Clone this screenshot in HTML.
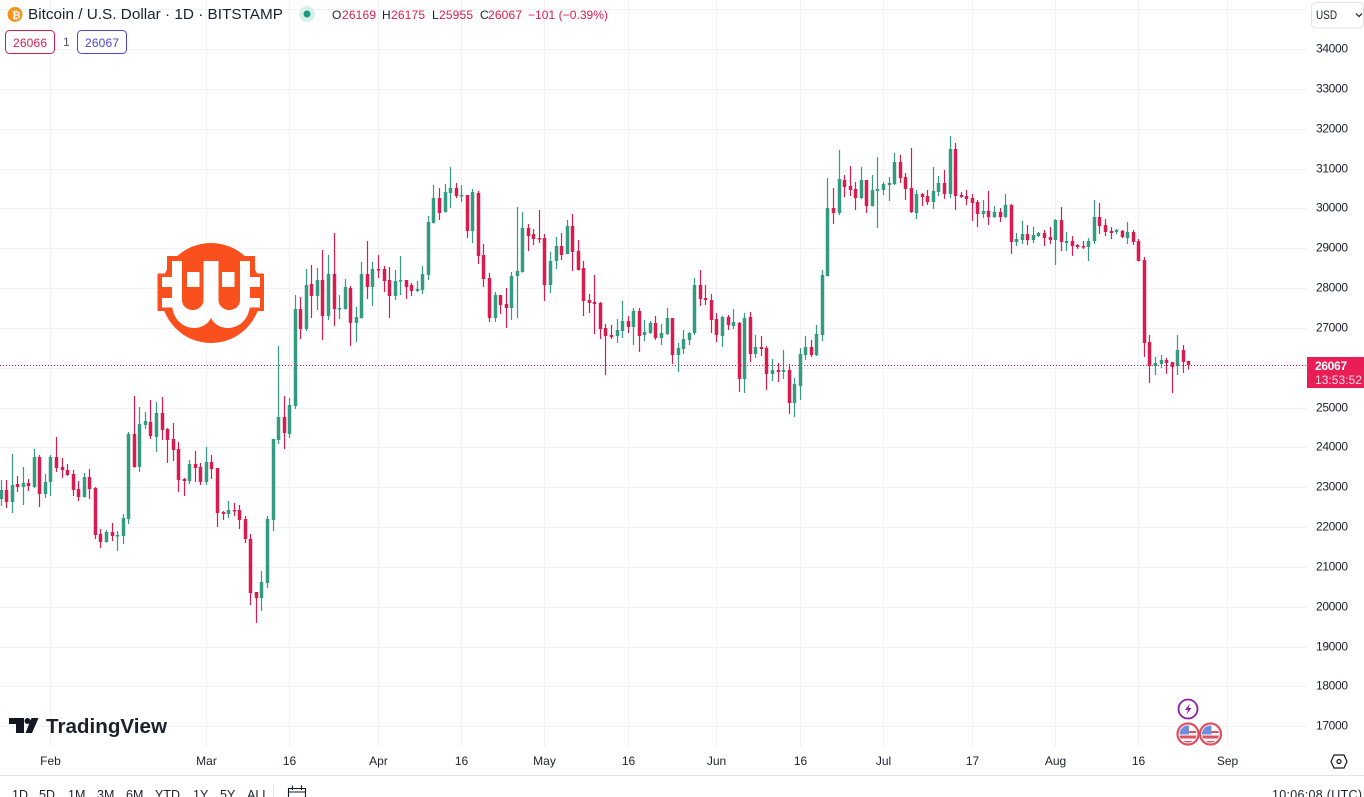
<!DOCTYPE html>
<html lang="en">
<head>
<meta charset="utf-8">
<title>Bitcoin / U.S. Dollar chart</title>
<style>
html,body{margin:0;padding:0;background:#fff;width:1364px;height:797px;overflow:hidden}
svg{display:block}
text{font-family:"Liberation Sans",sans-serif;fill:#1c202b;font-size:12px}
</style>
</head>
<body>
<svg id="chart" xmlns="http://www.w3.org/2000/svg" width="1364" height="797" viewBox="0 0 1364 797">
  <defs>
    <clipPath id="flag-clip-a"><circle cx="1188" cy="734" r="8.500"/></clipPath>
    <clipPath id="flag-clip-b"><circle cx="1210.500" cy="734" r="8.500"/></clipPath>
  </defs>
  <rect x="0" y="0" width="1364" height="797" fill="#ffffff"/>
  <g id="grid"></g>

  <g>
    <circle cx="211" cy="293" r="50" fill="#f9501e"/>
    <rect x="167" y="256" width="88" height="55" fill="#f9501e"/>
    <rect x="157.500" y="273.500" width="106.500" height="37.500" fill="#f9501e"/>
    <path d="M172 261V303C172 320 184 328 194 328C202 328 208 324 211 318C214 324 220 328 228 328C238 328 250 320 250 303V261Z" fill="#ffffff"/>
    <path d="M182 261H203.500V300C203.500 306 198 310 193 310C187 310 182 306 182 300Z" fill="#f9501e"/>
    <path d="M218.500 261H240V300C240 306 235 310 229 310C224 310 218.500 306 218.500 300Z" fill="#f9501e"/>
    <rect x="187" y="272" width="12.500" height="15" fill="#ffffff"/>
    <rect x="222" y="272" width="12.500" height="15" fill="#ffffff"/>
    <rect x="162" y="277" width="12" height="10" fill="#ffffff"/>
    <rect x="162" y="298" width="12" height="9.500" fill="#ffffff"/>
    <rect x="248" y="277" width="12" height="10" fill="#ffffff"/>
    <rect x="248" y="298" width="12" height="9.500" fill="#ffffff"/>
  </g>

  <g id="candles"></g>
  <line id="last-price-line" x1="0" x2="1307" y1="365.500" y2="365.500" stroke="#d81e50" stroke-width="1" stroke-dasharray="1 2"/>
  <g id="price-axis"></g>
  <g id="time-axis"></g>

  <g>
    <rect x="1307" y="357" width="57" height="31" fill="#e91e57"/>
    <text x="1315" y="370" style="font-size:12px;font-weight:bold;fill:#fff" textLength="32">26067</text>
    <text x="1315" y="384" style="font-size:12px;fill:#fbdbe4" textLength="47">13:53:52</text>
  </g>

  <g>
    <circle cx="15" cy="14.500" r="7.500" fill="#f7931a"/>
    <text x="12" y="18.500" style="font-size:10.500px;font-weight:bold;fill:#fff">₿</text>
    <text x="28" y="19" style="font-size:14.500px" textLength="255" lengthAdjust="spacingAndGlyphs">Bitcoin / U.S. Dollar · 1D · BITSTAMP</text>
    <circle cx="307" cy="14" r="8" fill="#d9f0ea"/>
    <circle cx="307" cy="14" r="3.500" fill="#1b9a80"/>
    <g style="font-size:12px">
      <text x="332" y="19">O</text>
      <text x="342" y="19" style="fill:#d81e50" textLength="34">26169</text>
      <text x="382" y="19">H</text>
      <text x="391" y="19" style="fill:#d81e50" textLength="34">26175</text>
      <text x="432" y="19">L</text>
      <text x="439" y="19" style="fill:#d81e50" textLength="34">25955</text>
      <text x="480" y="19">C</text>
      <text x="488" y="19" style="fill:#d81e50" textLength="34">26067</text>
      <text x="528" y="19" style="fill:#d81e50" textLength="80">−101 (−0.39%)</text>
    </g>
    <rect x="5.500" y="30.500" width="49" height="23" rx="4" fill="#fff" stroke="#d81e50"/>
    <text x="13" y="47" style="fill:#d81e50" textLength="34">26066</text>
    <text x="63" y="46" style="fill:#50535e">1</text>
    <rect x="77.500" y="30.500" width="49" height="23" rx="4" fill="#fff" stroke="#4a46d6"/>
    <text x="85" y="47" style="fill:#4a46d6" textLength="34">26067</text>
  </g>

  <g>
    <rect x="1311.500" y="2.500" width="52" height="25.500" rx="4" fill="#fff" stroke="#e0e3eb"/>
    <text x="1316" y="19" style="font-size:11.500px" textLength="21" lengthAdjust="spacingAndGlyphs">USD</text>
    <path d="M1356 13.500l3 3 3-3" fill="none" stroke="#131722" stroke-width="1.200"/>
  </g>

  <g>
    <path d="M9 718H24V733H16V724H9Z" fill="#131722"/>
    <circle cx="27.500" cy="721" r="3" fill="#131722"/>
    <path d="M31.500 718H38.500L32 733H25.500Z" fill="#131722"/>
    <text x="46" y="733" style="font-size:20.500px;font-weight:bold" textLength="121" lengthAdjust="spacingAndGlyphs">TradingView</text>
  </g>

  <g>
    <circle cx="1188" cy="709" r="9.500" fill="#fff" stroke="#8e1ca8" stroke-width="1.800"/>
    <path d="M1190 703.500L1185 710H1188L1186.500 714.500L1191.500 708H1188.500Z" fill="#8e1ca8"/>
    <g>
      <circle cx="1188" cy="734" r="10.500" fill="#fff" stroke="#e0505f" stroke-width="2.200"/>
      <g clip-path="url(#flag-clip-a)">
        <rect x="1179" y="725" width="18" height="18" fill="#fff"/>
        <rect x="1179" y="731" width="18" height="2" fill="#e0505f"/>
        <rect x="1179" y="735.500" width="18" height="3" fill="#e0505f"/>
        <rect x="1179" y="741" width="18" height="2" fill="#e0505f"/>
        <rect x="1179" y="725" width="10" height="9.500" fill="#6c8fe0"/>
      </g>
    </g>
    <g>
      <circle cx="1210.500" cy="734" r="10.500" fill="#fff" stroke="#e0505f" stroke-width="2.200"/>
      <g clip-path="url(#flag-clip-b)">
        <rect x="1201.500" y="725" width="18" height="18" fill="#fff"/>
        <rect x="1201.500" y="731" width="18" height="2" fill="#e0505f"/>
        <rect x="1201.500" y="735.500" width="18" height="3" fill="#e0505f"/>
        <rect x="1201.500" y="741" width="18" height="2" fill="#e0505f"/>
        <rect x="1201.500" y="725" width="10" height="9.500" fill="#6c8fe0"/>
      </g>
    </g>
  </g>

  <g>
    <path d="M1334 755H1344L1347 761.500L1344 768H1334L1331 761.500Z" fill="none" stroke="#131722" stroke-width="1.200"/>
    <circle cx="1339" cy="761.500" r="2" fill="none" stroke="#131722" stroke-width="1.200"/>
  </g>

  <line x1="0" x2="1364" y1="775.500" y2="775.500" stroke="#e0e3eb"/>
  <g id="range-toolbar">
    <text x="12" y="799" style="font-size:12.500px">1D</text>
    <text x="39" y="799" style="font-size:12.500px">5D</text>
    <text x="68" y="799" style="font-size:12.500px">1M</text>
    <text x="97" y="799" style="font-size:12.500px">3M</text>
    <text x="126" y="799" style="font-size:12.500px">6M</text>
    <text x="155" y="799" style="font-size:12.500px">YTD</text>
    <text x="193" y="799" style="font-size:12.500px">1Y</text>
    <text x="220" y="799" style="font-size:12.500px">5Y</text>
    <text x="247" y="799" style="font-size:12.500px">ALL</text>
    <line x1="273.500" x2="273.500" y1="784" y2="797" stroke="#e0e3eb"/>
    <path d="M288.500 788.500H305.500V800H288.500ZM288.500 792H305.500M292.500 785.500V790M301.500 785.500V790" fill="none" stroke="#131722" stroke-width="1.100"/>
    <text x="1272" y="799" style="font-size:12.500px" textLength="90">10:06:08 (UTC)</text>
  </g>
</svg>
<script>
const startDate = '2023-01-23';
const priceTicks = [35000,34000,33000,32000,31000,30000,29000,28000,27000,26000,25000,24000,23000,22000,21000,20000,19000,18000,17000];
const hiddenPriceLabels = [35000,26000];
const timeTickDates = ['2023-02-01','2023-03-01','2023-03-16','2023-04-01','2023-04-16','2023-05-01','2023-05-16','2023-06-01','2023-06-16','2023-07-01','2023-07-17','2023-08-01','2023-08-16','2023-09-01'];
const timeTickLabels = ['Feb','Mar','16','Apr','16','May','16','Jun','16','Jul','17','Aug','16','Sep'];
const lastPrice = 26067;
const opens = [
22705,22931,22630,23082,23006,23107,23006,23759,22831,23132,
23759,23508,23433,23333,22956,22755,23257,22981,21827,21626,
21877,21776,21776,22203,24337,23508,24562,24638,24261,24864,
24462,24211,23960,23207,23157,23584,23508,23132,23634,23483,
22379,22329,22429,22429,22203,21701,20371,20220,20597,22178,
24186,24763,24337,25039,
27474,26972,28102,27800,28202,27298,28353,27474,27474,28001,
27123,27248,28353,28026,28478,28478,28202,27800,28177,28202,
28076,27926,27951,28327,29633,30260,29909,30386,30511,30310,
30335,29432,30386,28829,28252,27248,27825,27600,27499,28302,
28403,29507,29357,29256,29256,28076,28679,29055,28855,29557,
28930,28503,27700,27650,27625,26997,26821,26796,26922,27173,
27022,27424,26821,26872,27123,26746,26847,27248,26319,26470,
26696,26872,28076,27750,27700,27223,26796,27273,27047,27123,
25717,27273,26345,26520,26495,25843,25943,25893,25943,25115,
25541,26319,26520,26319,26821,28302,30009,29884,30712,30561,
30486,30260,30712,30059,30436,30461,30587,30612,31164,30787,
30511,29884,30361,30310,30160,30411,30637,30361,31490,30336,
30310,30260,30160,29859,29934,29783,29909,29783,30085,29156,
29206,29357,29206,29307,29382,29281,29206,29708,29131,29181,
29081,29055,29030,29181,29783,29583,29432,29407,29432,29256,
29407,29181,28704,26646,26043,26094,26194,26144,26043,26445,
26169];
const highs = [
23182,23182,23835,23282,23508,23207,23960,23809,23333,23809,
24261,23734,23584,23433,23157,23358,23458,23006,21952,21927,
22103,21902,22329,24387,25290,25014,24889,25190,25140,25265,
24487,24613,24136,23232,23684,23910,23609,24010,23809,23483,
22404,22655,22605,22554,22278,21827,20371,20898,22278,24211,
26545,25290,25240,27825,
27775,28478,28578,28503,28955,28829,29382,27825,28227,28051,
27524,28654,29181,28654,28829,28553,28528,28453,28804,28202,
28127,28177,28553,29808,30586,30511,30612,31038,30637,30586,
30335,30486,30436,29106,28378,27901,27825,28001,28403,30034,
29909,29608,29482,29959,29357,28905,29281,29382,29708,29859,
29206,28679,27851,28327,27650,27098,27073,27223,27675,27298,
27499,27499,27198,27173,27298,27098,27499,27248,26621,26947,
26897,28252,28453,28076,27851,27374,27298,27323,27474,27148,
27374,27399,26821,26796,26545,26219,26119,26445,26094,25742,
26495,26796,26696,27073,28453,30762,30511,31465,30838,31063,
30662,31038,30712,30838,31289,30662,30787,31390,31340,30888,
31515,30461,30386,30461,31038,30812,30963,31816,31641,30411,
30461,30361,30210,30210,30436,30059,30009,30361,30110,29382,
29683,29583,29532,29407,29457,29532,29733,30034,29407,29307,
29106,29181,29256,30210,30135,29733,29532,29482,29457,29658,
29457,29231,28779,26821,26269,26320,26244,26144,26821,26570,
26175];
const lows = [
22529,22479,22354,22881,22554,22906,22981,22504,22730,22780,
23383,23232,23282,22780,22655,22740,22705,21701,21475,21610,
21651,21400,21576,22078,23490,23383,24462,24211,23885,24186,
23609,23659,22881,22780,23082,23132,23056,23056,23207,22002,
22178,22228,22278,21952,21601,20044,19593,19894,20471,21902,
24086,23960,24236,24964,
26721,26922,27248,27449,26696,27198,27047,27223,27460,26545,
26646,27235,27725,27549,28252,27901,27248,27700,27825,27725,
27800,27901,27851,28202,29620,29708,29895,30009,30260,30160,
29256,29131,28604,28026,27148,27148,27349,26997,27198,27248,
28390,28930,29080,29131,27675,27876,28478,28704,28845,28428,
28440,27298,27374,26847,26721,25817,26721,26621,26746,26872,
26570,26395,26671,26847,26696,26570,26821,26094,25893,26345,
26570,26821,27549,27574,26872,26646,26520,26947,26972,25391,
25366,26144,26244,26294,25441,25667,25642,25717,24839,24763,
25190,26194,26269,26294,26671,28290,29608,29834,30285,30310,
29959,30235,29884,30045,29507,30335,30185,30587,30637,30210,
29884,29733,30059,30085,29984,30310,30235,30260,29959,30260,
30085,29683,29532,29758,29583,29758,29658,29758,28855,29055,
29106,29080,29131,29281,29055,29106,28579,28930,28930,28804,
28980,28980,28679,29106,29357,29306,29231,29357,29256,29106,
29080,28670,26269,25617,25817,25993,25843,25366,25817,25868,
25955];
const closes = [
22931,22630,23056,23006,23107,23031,23759,22831,23132,23759,
23483,23433,23307,22931,22755,23257,22956,21801,21626,21877,
21776,21801,22228,24337,23508,24588,24663,24286,24864,24437,
24186,23935,23182,23157,23584,23483,23132,23634,23458,22354,
22329,22429,22404,22178,21701,20346,20220,20622,22203,24211,
24763,24362,25064,27474,
26972,28076,27800,28202,27298,28353,27474,27499,28026,27123,
27273,28353,28026,28478,28453,28177,27800,28177,28202,28026,
27926,27976,28353,29658,30260,29884,30411,30511,30310,30335,
29432,30411,28804,28227,27248,27825,27574,27499,28302,28428,
29507,29306,29231,29231,28076,28679,29055,28829,29557,28905,
28453,27675,27625,27600,26972,26796,26771,26947,27173,27022,
27424,26796,26897,27123,26746,26872,27248,26319,26495,26721,
26872,28076,27725,27700,27198,26821,27273,27073,27148,25717,
27248,26345,26520,26470,25843,25943,25893,25943,25115,25592,
26345,26520,26319,26847,28328,30009,29884,30737,30536,30461,
30260,30712,30059,30461,30486,30612,30637,31164,30762,30486,
29909,30361,30285,30160,30436,30637,30361,31490,30310,30285,
30235,30135,29859,29934,29783,29909,29783,30085,29156,29231,
29357,29206,29332,29382,29256,29206,29708,29156,29181,29055,
29030,29030,29181,29783,29557,29407,29382,29457,29281,29407,
29156,28679,26621,26043,26119,26194,26119,26019,26445,26144,
26067];

const SVG_NS = 'http://www.w3.org/2000/svg';
const UP_COLOR = '#359a82';
const DOWN_COLOR = '#d91c50';
const GRID_COLOR = '#f1f2f5';
const DAY_MS = 86400000;

function yScale(price) {
  return 49 + (34000 - price) / 25.1;
}
function dayIndex(dateStr) {
  return (Date.parse(dateStr) - Date.parse(startDate)) / DAY_MS;
}
function xScale(index) {
  return 0.55 + 5.55 * index;
}
function make(tag, attrs, parent) {
  const el = document.createElementNS(SVG_NS, tag);
  for (const key in attrs) el.setAttribute(key, attrs[key]);
  parent.appendChild(el);
  return el;
}

const gridGroup = document.getElementById('grid');
const priceAxis = document.getElementById('price-axis');
const timeAxis = document.getElementById('time-axis');
const candleGroup = document.getElementById('candles');

priceTicks.forEach(function (tick) {
  const y = Math.round(yScale(tick)) + 0.5;
  const line = make('line', { x1: 0, x2: 1307, y1: y, y2: y, stroke: GRID_COLOR }, gridGroup);
  
  
  if (hiddenPriceLabels.indexOf(tick) === -1) {
    const label = make('text', { x: 1316, y: y + 3, textLength: 32 }, priceAxis);
    
    
    label.textContent = String(tick);
  }
});

timeTickDates.forEach(function (date, i) {
  const x = Math.round(xScale(dayIndex(date))) + 0.5;
  const line = make('line', { x1: x, x2: x, y1: 0, y2: 747, stroke: GRID_COLOR }, gridGroup);
  
  
  const label = make('text', { x: x, y: 765, 'text-anchor': 'middle' }, timeAxis);
  
  
  label.textContent = timeTickLabels[i];
});

closes.forEach(function (close, i) {
  const open = opens[i];
  const color = close >= open ? UP_COLOR : DOWN_COLOR;
  const cx = Math.round(xScale(i));
  const g = make('g', {}, candleGroup);
  
  
  const highY = yScale(highs[i]);
  const lowY = yScale(lows[i]);
  const wick = make('rect', { x: cx - 0.1, y: highY, width: 1.2, height: Math.max(lowY - highY, 1), fill: color }, g);
  
  
  const top = yScale(Math.max(open, close));
  const bottom = yScale(Math.min(open, close));
  const body = make('rect', { x: cx - 1.25, y: top, width: 3.5, height: Math.max(bottom - top, 1.5), fill: color }, g);
  
  
});

const priceLine = document.getElementById('last-price-line');
const lastY = Math.round(yScale(lastPrice)) + 0.5;
priceLine.setAttribute('y1', lastY);
priceLine.setAttribute('y2', lastY);
</script>
</body>
</html>
